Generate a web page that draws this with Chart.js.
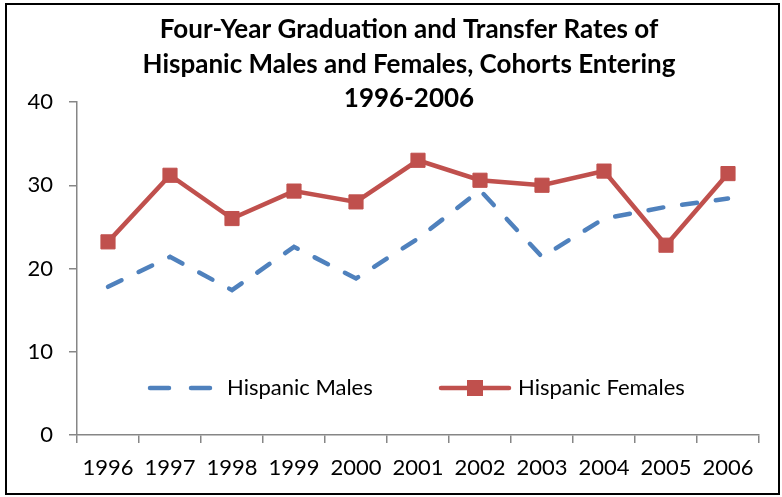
<!DOCTYPE html>
<html>
<head>
<meta charset="utf-8">
<script src="https://cdn.jsdelivr.net/npm/chart.js@4.4.0/dist/chart.umd.min.js"></script>
<style>
  html, body { margin: 0; padding: 0; background: #fff; }
  #wrap { position: relative; width: 782px; height: 497px; }
  #frame {
    position: absolute; left: 5px; top: 3px; width: 775px; height: 492px;
    box-sizing: border-box; border: 2px solid #000;
  }
  canvas { position: absolute; left: 0; top: 0; }
</style>
</head>
<body>
<div id="wrap">
  <div id="frame"></div>
  <canvas id="chart" width="782" height="497"></canvas>
</div>
<script>
// data
var years = ['1996', '1997', '1998', '1999', '2000', '2001', '2002', '2003', '2004', '2005', '2006'];
var males = [17.8, 21.4, 17.4, 22.6, 18.8, 23.6, 29.4, 21.4, 26.0, 27.4, 28.4];
var females = [23.2, 31.2, 26.0, 29.3, 28.0, 33.0, 30.6, 30.0, 31.7, 22.8, 31.4];
var titleLines = ['Four-Year Graduation and Transfer Rates of',
                  'Hispanic Males and Females, Cohorts Entering',
                  '1996-2006'];
var yTicks = [0, 10, 20, 30, 40];

var FONT = 'Lato, "Open Sans", sans-serif';
var BLUE = '#4F81BD';
var RED = '#C0504D';
var AXIS = '#868686';

//titulo em 3 linhas
var titlePlugin = {
    id: 'titlePlugin',
    afterDraw: function(chart) {
        var ctx = chart.ctx;
        ctx.save();
        ctx.fillStyle = '#000';
        ctx.font = 'bold 26px ' + FONT;
        ctx.textAlign = 'center';
        ctx.textBaseline = 'middle';
        titleLines.forEach(function(line, i) {
            ctx.fillText(line, 409, 30 + i * 34.5);
        });
        ctx.restore();
    }
};

//legenda dentro da area do grafico
var legendPlugin = {
    id: 'legendPlugin',
    afterDraw: function(chart) {
        var ctx = chart.ctx;
        var y = 388;
        ctx.save();
        ctx.lineCap = 'round';
        ctx.lineWidth = 4.5;
        // males
        ctx.strokeStyle = BLUE;
        ctx.beginPath();
        ctx.moveTo(150, y); ctx.lineTo(169, y);
        ctx.moveTo(191, y); ctx.lineTo(210, y);
        ctx.stroke();
        // females
        ctx.strokeStyle = RED;
        ctx.beginPath();
        ctx.moveTo(441, y); ctx.lineTo(509, y);
        ctx.stroke();
        ctx.fillStyle = RED;
        ctx.fillRect(467, y - 8, 16, 16);

        ctx.fillStyle = '#000';
        ctx.font = '22px ' + FONT;
        ctx.textAlign = 'left';
        ctx.textBaseline = 'middle';
        ctx.fillText('Hispanic Males', 227, y);
        ctx.fillText('Hispanic Females', 518, y);
        ctx.restore();
    }
};

var ctx = document.getElementById('chart').getContext('2d');
var chart = new Chart(ctx, {
    type: 'line',
    data: {
        labels: years,
        datasets: [{
            label: 'Hispanic Males',
            data: males,
            borderColor: BLUE,
            backgroundColor: BLUE,
            borderWidth: 4.5,
            borderDash: [15, 19],
            borderCapStyle: 'round',
            pointRadius: 0,
            tension: 0
        }, {
            label: 'Hispanic Females',
            data: females,
            borderColor: RED,
            backgroundColor: RED,
            borderWidth: 4.5,
            pointStyle: 'rect',
            pointRadius: 10,
            pointBorderWidth: 1,
            pointHoverRadius: 10,
            tension: 0
        }]
    },
    options: {
        responsive: false,
        animation: false,
        layout: {
            padding: { top: 102, right: 23, left: 0, bottom: 0 }
        },
        plugins: {
            legend: { display: false },
            title: { display: false },
            tooltip: { enabled: false }
        },
        scales: {
            x: {
                offset: true,
                grid: {
                    offset: true,
                    drawOnChartArea: false,
                    drawTicks: true,
                    tickLength: 8,
                    color: AXIS,
                    lineWidth: 1.5
                },
                border: { color: AXIS, width: 1.5 },
                ticks: {
                    color: '#000',
                    font: { family: FONT, size: 22 },
                    padding: 12,
                    maxRotation: 0,
                    autoSkip: false
                },
                afterFit: function(scale) { scale.height = 62; }
            },
            y: {
                min: 0,
                max: 40,
                afterBuildTicks: function(scale) {
                    scale.ticks = yTicks.map(function(v) { return { value: v }; });
                },
                grid: {
                    drawOnChartArea: false,
                    drawTicks: true,
                    tickLength: 8,
                    color: AXIS,
                    lineWidth: 1.5
                },
                border: { color: AXIS, width: 1.5 },
                ticks: {
                    color: '#000',
                    font: { family: FONT, size: 22 },
                    padding: 16
                },
                afterFit: function(scale) { scale.width = 77; }
            }
        }
    },
    plugins: [titlePlugin, legendPlugin]
});
</script>
</body>
</html>
